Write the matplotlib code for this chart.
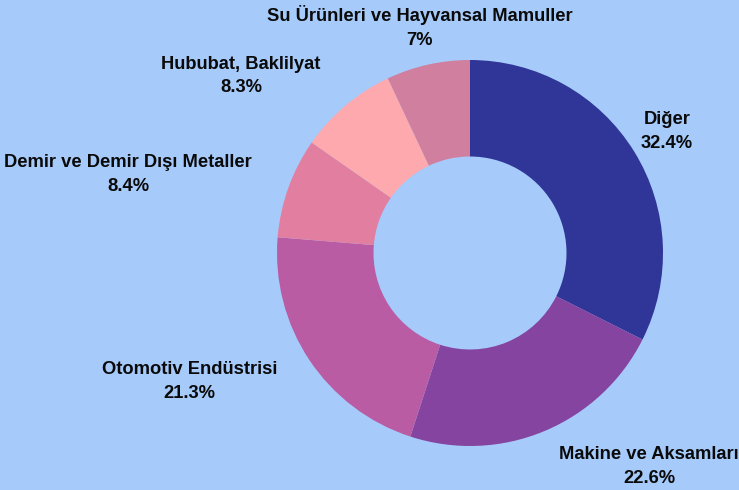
import matplotlib
matplotlib.use('Agg')
import matplotlib.pyplot as plt

# export share by sector (%)
categories = ["Diğer", "Makine ve Aksamları", "Otomotiv Endüstrisi",
              "Demir ve Demir Dışı Metaller", "Hububat, Baklilyat",
              "Su Ürünleri ve Hayvansal Mamuller"]
shares = [32.4, 22.6, 21.3, 8.4, 8.3, 7]
share_labels = ["32.4%", "22.6%", "21.3%", "8.4%", "8.3%", "7%"]
colors = ["#303598", "#8444a0", "#ba5ca4", "#e27fa0", "#fda9ad", "#d07f9e"]
aligns = ["center", "left", "right", "right", "right", "center"]

bg = "#a6cafa"
plt.rcParams['font.family'] = ['Liberation Sans', 'DejaVu Sans']

fig = plt.figure(figsize=(7.39, 4.90), dpi=100, facecolor=bg)
ax = fig.add_axes([0, 0, 1, 1])
ax.set_facecolor(bg)

radius = 193
texts_lbl = [f"{c}\n{p}" for c, p in zip(categories, share_labels)]
wedges, texts = ax.pie(shares, labels=texts_lbl, colors=colors, startangle=90,
                       counterclock=False, center=(470, 237), radius=radius,
                       labeldistance=1.2, frame=True,
                       wedgeprops=dict(width=radius * 0.5, linewidth=0))
for t, ha in zip(texts, aligns):
    t.set_ha(ha)
    t.set_va('center')
    t.set_multialignment('center')
    t.set_fontsize(13.2)
    t.set_fontweight('bold')
    t.set_color('#0a0a0a')
    t.set_linespacing(1.5)

ax.set_xlim(0, 739)
ax.set_ylim(0, 490)
ax.set_aspect('equal')
ax.axis('off')

fig.savefig("out.png", dpi=100, facecolor=bg)
